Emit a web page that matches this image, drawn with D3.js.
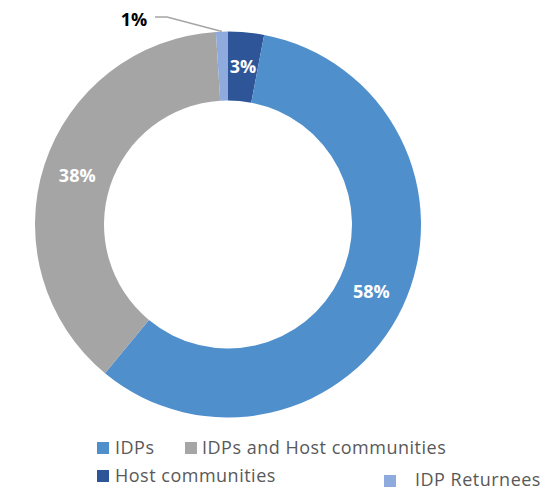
<!DOCTYPE html>
<html><head><meta charset="utf-8">
<script src="https://cdn.jsdelivr.net/npm/d3@7"></script>
<style>body{margin:0;background:#fff}svg{display:block}</style>
</head><body>
<svg id="c" width="545" height="494"></svg>
<script>
const categories = ["IDPs", "IDPs and Host communities", "Host communities", "IDP Returnees"];
const values = [58, 38, 3, 1];
const colors = ["#4F8FCC", "#A5A5A5", "#2E5597", "#8FAADC"];
const labelColors = ["#fff", "#fff", "#fff", "#000"];
const drawOrder = ["Host communities", "IDPs", "IDPs and Host communities", "IDP Returnees"];

const svg = d3.select("#c");
const cx = 228, cy = 224.5, R = 193, r = 124;
const data = drawOrder.map(n => { const i = categories.indexOf(n); return {name:n, value:values[i], color:colors[i], lc:labelColors[i]}; });
const pie = d3.pie().sort(null).value(d => d.value);
const arc = d3.arc().innerRadius(r).outerRadius(R);
const g = svg.append("g").attr("transform", `translate(${cx},${cy})`);
const arcs = pie(data);
g.selectAll("path").data(arcs).join("path").attr("d", arc).attr("fill", d => d.data.color);

const font = "'Open Sans', sans-serif";
arcs.forEach(a => {
  if (a.data.name === "IDP Returnees") {
    const m = (a.startAngle + a.endAngle) / 2;
    const ex = R * Math.sin(m), ey = -R * Math.cos(m);
    g.append("polyline").attr("points", `${155-cx},${17-cy} ${167-cx},${17-cy} ${ex},${ey}`)
      .attr("fill", "none").attr("stroke", "#A5A5A5").attr("stroke-width", 1.5);
    svg.append("text").attr("x", 134).attr("y", 25.5).attr("text-anchor", "middle")
      .attr("font-family", font).attr("font-weight", "bold").attr("font-size", 18).attr("fill", a.data.lc)
      .text(Math.round(a.data.value) + "%");
  } else {
    const [x, y] = arc.centroid(a);
    g.append("text").attr("x", x).attr("y", y + 6.5).attr("text-anchor", "middle")
      .attr("font-family", font).attr("font-weight", "bold").attr("font-size", 18).attr("fill", a.data.lc)
      .text(Math.round(a.data.value) + "%");
  }
});

const legendPos = [
  {sx:97, sy:442, tx:115, ty:454},
  {sx:185, sy:442, tx:202, ty:454},
  {sx:97, sy:470, tx:115, ty:482},
  {sx:384, sy:475, tx:415, ty:486}
];
categories.forEach((c, i) => {
  const p = legendPos[i];
  svg.append("rect").attr("x", p.sx).attr("y", p.sy).attr("width", 12).attr("height", 12).attr("fill", colors[i]);
  svg.append("text").attr("x", p.tx).attr("y", p.ty).attr("font-family", font).attr("font-size", 18)
    .attr("letter-spacing", 0.5).attr("fill", "#595959").text(c);
});
</script>
</body></html>
